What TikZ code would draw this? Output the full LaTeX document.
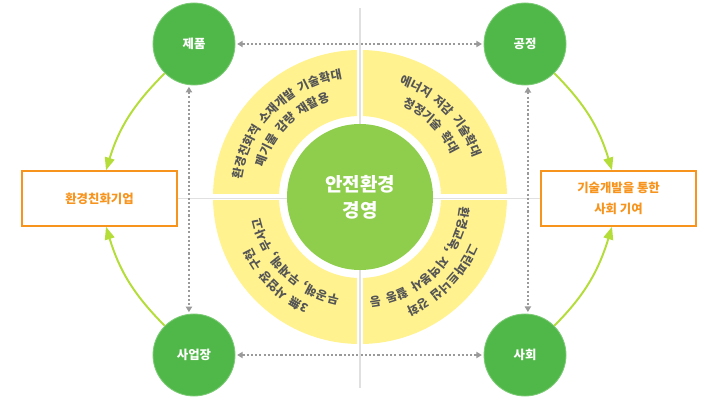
\documentclass[tikz,border=0pt]{standalone}
\usepackage{fontspec}
\setmainfont{Noto Sans CJK KR}
\usepackage{xcolor}
\usepackage{tikz}
\usetikzlibrary{arrows.meta,decorations.text,calc}

\definecolor{hubgreen}{HTML}{8FCE4C}
\definecolor{cornergreen}{HTML}{50B848}
\definecolor{ringyellow}{HTML}{FFF28F}
\definecolor{goalorange}{HTML}{F7941D}
\definecolor{flowgreen}{HTML}{B4DD3A}
\definecolor{linegray}{HTML}{E0E0E0}
\definecolor{dotgray}{HTML}{9A9A9A}
\definecolor{textgray}{HTML}{555555}

\newlength\pxu
\setlength\pxu{0.025cm}
\newcommand\ringfont{\fontsize{8.5}{9}\selectfont\bfseries\color{textgray}\spaceskip=3.6pt}

\begin{document}
\begin{tikzpicture}[
  x=\pxu, y=\pxu,
  hub/.style={circle, fill=hubgreen, text=white, minimum size=146\pxu,
    inner sep=0pt, align=center, font=\fontsize{13.5}{18.5}\selectfont\bfseries},
  corner/.style={circle, fill=cornergreen, draw=cornergreen!75!white,
    line width=0.6pt, text=white, minimum size=82\pxu, inner sep=0pt,
    font=\fontsize{8.8}{10}\selectfont\bfseries},
  goal/.style={draw=goalorange, line width=1.1pt, text=goalorange,
    minimum width=155\pxu, minimum height=55\pxu, inner sep=0pt,
    align=center, font=\fontsize{8.8}{15}\selectfont\bfseries},
  dotarr/.style={{Triangle[length=4pt,width=4.5pt]}-{Triangle[length=4pt,width=4.5pt]},
    dotgray, line width=0.9pt, dash pattern=on 1.5pt off 1.5pt,
    shorten <=1.2pt, shorten >=1.2pt},
  flowarr/.style={-{Triangle[length=9pt,width=7pt]}, flowgreen, line width=1.4pt},
  ringtext/.style={decorate, decoration={text along path, text align=center,
    text={#1}}}
]
\useasboundingbox (0,0) rectangle (720,402);

% yellow ring, split in four
\fill[ringyellow, even odd rule] (360,205) circle[radius=147] (360,205) circle[radius=81];
\draw[white, line width=6\pxu] (210,205) -- (510,205);
\draw[white, line width=6\pxu] (360,55) -- (360,355);

\node[goal] (ecofirm) at (99.5,203.5) {환경친화기업};
\node[goal] (contrib) at (618.5,203.5) {기술개발을 통한\\사회 기여};

\draw[linegray, line width=1.4pt] (360,394) -- (360,14);
\draw[linegray, line width=1.4pt] (ecofirm.east) -- (contrib.west);

\node[hub] (hub) at (360,205) {안전환경\\경영};

% ring texts
\path[ringtext={|\ringfont|환경친화적 소재개발 기술확대}]
  ($(hub.center)+(185:120)$) arc[start angle=185, end angle=85, radius=120];
\path[ringtext={|\ringfont|폐기물 감량 재활용}]
  ($(hub.center)+(185:101)$) arc[start angle=185, end angle=85, radius=101];
\path[ringtext={|\ringfont|에너지 저감 기술확대}]
  ($(hub.center)+(95:120)$) arc[start angle=95, end angle=-5, radius=120];
\path[ringtext={|\ringfont|청정기술 확대}]
  ($(hub.center)+(95:101)$) arc[start angle=95, end angle=-5, radius=101];
\path[ringtext={|\ringfont|그린파트너십 강화}]
  ($(hub.center)+(365:120)$) arc[start angle=365, end angle=265, radius=120];
\path[ringtext={|\ringfont|환경교육, 지역봉사 활동 등}]
  ($(hub.center)+(365:101)$) arc[start angle=365, end angle=265, radius=101];
\path[ringtext={|\ringfont|3無 사업장 구현}]
  ($(hub.center)+(275:120)$) arc[start angle=275, end angle=175, radius=120];
\path[ringtext={|\ringfont|무공해, 무재해, 무사고}]
  ($(hub.center)+(275:101)$) arc[start angle=275, end angle=175, radius=101];

\node[corner] (jepum) at (194,358) {제품};
\node[corner] (gongjeong) at (525,358) {공정};
\node[corner] (saeopjang) at (194,47) {사업장};
\node[corner] (sahoe) at (525,47) {사회};

\draw[dotarr] (jepum) -- (gongjeong);
\draw[dotarr] (saeopjang) -- (sahoe);
\draw[dotarr] (jepum.263) -- (saeopjang.97);
\draw[dotarr] (gongjeong.274) -- (sahoe.86);

\draw[flowarr] (jepum.225) to[out=225, in=73] (ecofirm.77);
\draw[flowarr] (gongjeong.315) to[out=315, in=107] (contrib.103);
\draw[flowarr] (saeopjang.135) to[out=135, in=287] (ecofirm.283);
\draw[flowarr] (sahoe.45) to[out=45, in=253] (contrib.257);
\end{tikzpicture}
\end{document}
